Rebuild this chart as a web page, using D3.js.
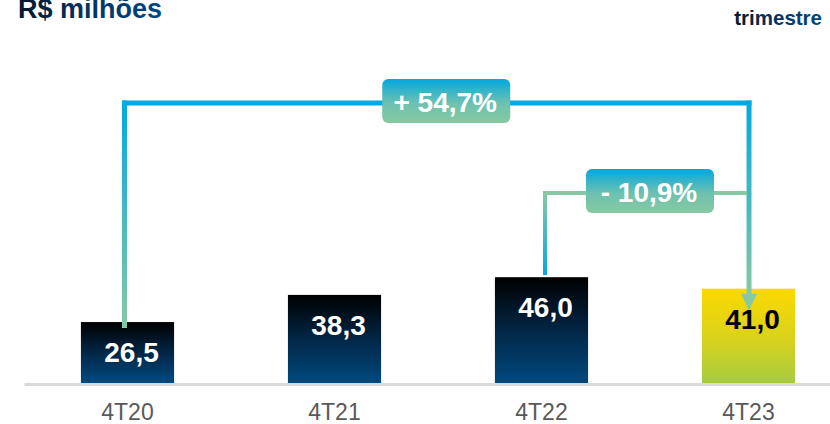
<!DOCTYPE html>
<html>
<head>
<meta charset="utf-8">
<script src="https://cdn.jsdelivr.net/npm/d3@7"></script>
<style>
  body { margin: 0; background: #fff; }
  svg { display: block; font-family: Arial, "Liberation Sans", sans-serif; }
</style>
</head>
<body>
<svg id="chart"></svg>
<script>
var categories = ['4T20', '4T21', '4T22', '4T23'];
var values = [26.5, 38.3, 46.0, 41.0];
var valueLabels = ['26,5', '38,3', '46,0', '41,0'];
var highlight = ['4T23'];
var compareFrom = ['4T20', '4T22'];
var compareTo = ['4T23', '4T23'];
var compareLabels = ['+ 54,7%', '- 10,9%'];

var width = 830,
    height = 424,
    baseline = 384;

// connector layout (pixel levels, endpoint nudges and label box offsets)
var connectorLevel = [103, 193],
    connectorStart = [328, 275],
    fromNudge = [-3, 3.5],
    toNudge = 0.5,
    boxShift = [9.5, 3],
    boxW = 128,
    boxH = 44;

var svg = d3.select('svg#chart')
    .attr('width', width)
    .attr('height', height);

var defs = svg.append('defs');

function vGradient(id, stops) {
    var g = defs.append('linearGradient')
        .attr('id', id)
        .attr('x1', 0).attr('y1', 0).attr('x2', 0).attr('y2', 1);
    stops.forEach(function (s) {
        g.append('stop').attr('offset', s[0]).attr('stop-color', s[1]);
    });
    return g;
}

vGradient('barNavy', [[0, '#000000'], [0.55, '#022a4c'], [1, '#00497f']]);
vGradient('barYellow', [[0, '#fbd900'], [0.55, '#d8d21e'], [1, '#a5cb40']]);
vGradient('boxGrad', [[0, '#03a8e0'], [0.55, '#6dc1b0'], [1, '#88c9a2']]);

var titleGrad = defs.append('linearGradient')
    .attr('id', 'titleGrad')
    .attr('x1', 0).attr('y1', 0).attr('x2', 1).attr('y2', 0);
titleGrad.append('stop').attr('offset', 0).attr('stop-color', '#08182c');
titleGrad.append('stop').attr('offset', 0.45).attr('stop-color', '#03325f');
titleGrad.append('stop').attr('offset', 1).attr('stop-color', '#004780');

function lineGradient(id, y1, y2, c1, c2) {
    var g = defs.append('linearGradient')
        .attr('id', id)
        .attr('gradientUnits', 'userSpaceOnUse')
        .attr('x1', 0).attr('y1', y1).attr('x2', 0).attr('y2', y2);
    g.append('stop').attr('offset', 0).attr('stop-color', c1);
    g.append('stop').attr('offset', 1).attr('stop-color', c2);
}

var blue = '#03a9e1',
    green = '#86c9a4';

var x = d3.scaleBand()
    .domain(categories)
    .range([24, 852])
    .paddingInner(0.55)
    .paddingOuter(0.275);

var y = d3.scaleLinear()
    .domain([0, 50])
    .range([baseline - 1, baseline - 116]);

// titles
svg.append('text')
    .attr('x', 18)
    .attr('y', 18)
    .attr('font-size', 27)
    .attr('font-weight', 'bold')
    .attr('fill', 'url(#titleGrad)')
    .text('R$ milhões');

svg.append('text')
    .attr('x', 822)
    .attr('y', 25)
    .attr('text-anchor', 'end')
    .attr('font-size', 20.5)
    .attr('font-weight', 'bold')
    .attr('fill', 'url(#titleGrad)')
    .text('trimestre');

// x axis
var axis = svg.append('g')
    .attr('transform', 'translate(0,' + baseline + ')')
    .call(d3.axisBottom(x).tickSize(0).tickSizeOuter(0));
axis.select('.domain')
    .attr('stroke', '#d9d9d9')
    .attr('stroke-width', 3);
axis.selectAll('.tick text')
    .attr('y', 36)
    .attr('dy', 0)
    .attr('font-size', 23)
    .attr('font-family', 'Arial, "Liberation Sans", sans-serif')
    .attr('fill', '#595959');

// bars
var data = categories.map(function (c, i) {
    return { cat: c, value: values[i], label: valueLabels[i] };
});

svg.selectAll('rect.bar')
    .data(data)
    .enter().append('rect')
    .attr('class', 'bar')
    .attr('x', function (d) { return x(d.cat); })
    .attr('width', x.bandwidth())
    .attr('y', function (d) { return y(d.value); })
    .attr('height', function (d) { return y(0) - y(d.value); })
    .attr('fill', function (d) {
        return highlight.indexOf(d.cat) >= 0 ? 'url(#barYellow)' : 'url(#barNavy)';
    });

// connectors
var center = function (c) { return x(c) + x.bandwidth() / 2; };

compareFrom.forEach(function (from, i) {
    var x1 = center(from) + fromNudge[i],
        x2 = center(compareTo[i]) + toNudge,
        level = connectorLevel[i],
        start = connectorStart[i];
    if (i === 0) {
        lineGradient('leftLine0', level, start, blue, green);
        svg.append('line')
            .attr('x1', x1).attr('y1', level - 2.5)
            .attr('x2', x1).attr('y2', start)
            .attr('stroke', 'url(#leftLine0)')
            .attr('stroke-width', 5);
        svg.append('line')
            .attr('x1', x1 - 2.5).attr('y1', level)
            .attr('x2', x2 + 2.5).attr('y2', level)
            .attr('stroke', blue)
            .attr('stroke-width', 5);
        var arrowTop = y(values[categories.indexOf(compareTo[i])]) + 5;
        lineGradient('rightLine0', level, arrowTop, blue, green);
        svg.append('line')
            .attr('x1', x2).attr('y1', level - 2.5)
            .attr('x2', x2).attr('y2', arrowTop + 2)
            .attr('stroke', 'url(#rightLine0)')
            .attr('stroke-width', 5);
        svg.append('path')
            .attr('d', 'M' + (x2 - 8) + ',' + arrowTop + 'L' + (x2 + 8) + ',' + arrowTop +
                'L' + x2 + ',' + (arrowTop + 17) + 'Z')
            .attr('fill', green);
    } else {
        lineGradient('leftLine1', level, start, green, blue);
        svg.append('line')
            .attr('x1', x1).attr('y1', level - 2)
            .attr('x2', x1).attr('y2', start)
            .attr('stroke', 'url(#leftLine1)')
            .attr('stroke-width', 4);
        svg.append('line')
            .attr('x1', x1 - 2).attr('y1', level)
            .attr('x2', x2 - 2).attr('y2', level)
            .attr('stroke', green)
            .attr('stroke-width', 4);
    }
});

// change label boxes
compareFrom.forEach(function (from, i) {
    var cx = (center(from) + fromNudge[i] + center(compareTo[i]) + toNudge) / 2 + boxShift[i],
        cy = connectorLevel[i] - 2;
    svg.append('rect')
        .attr('x', cx - boxW / 2)
        .attr('y', cy - boxH / 2)
        .attr('width', boxW)
        .attr('height', boxH)
        .attr('rx', 6)
        .attr('fill', 'url(#boxGrad)');
    svg.append('text')
        .attr('x', cx - 1)
        .attr('y', cy + 11)
        .attr('text-anchor', 'middle')
        .attr('font-size', 28)
        .attr('font-weight', 'bold')
        .attr('fill', '#ffffff')
        .text(compareLabels[i]);
});

// value labels
svg.selectAll('text.value')
    .data(data)
    .enter().append('text')
    .attr('class', 'value')
    .attr('x', function (d) { return x(d.cat) + x.bandwidth() / 2 + 4; })
    .attr('y', function (d) { return y(d.value) + 40; })
    .attr('text-anchor', 'middle')
    .attr('font-size', 28)
    .attr('font-weight', 'bold')
    .attr('fill', function (d) {
        return highlight.indexOf(d.cat) >= 0 ? '#000000' : '#ffffff';
    })
    .text(function (d) { return d.label; });
</script>
</body>
</html>
